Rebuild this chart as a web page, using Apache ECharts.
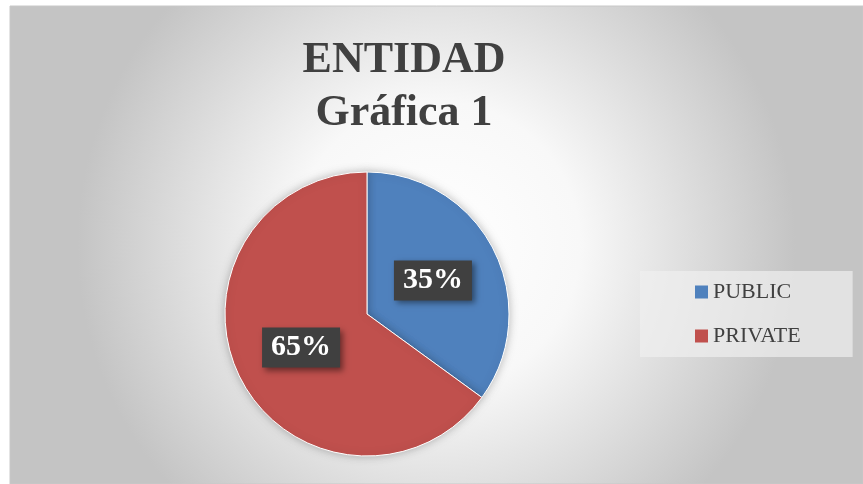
<!DOCTYPE html>
<html>
<head>
<meta charset="utf-8">
<script src="https://cdn.jsdelivr.net/npm/echarts@6/dist/echarts.min.js"></script>
<style>
  html, body { margin: 0; padding: 0; background: #fff; }
  #mychart { width: 863px; height: 484px; }
</style>
</head>
<body>
<div id="mychart"></div>
<script>
var categories = ['PUBLIC', 'PRIVATE'];
var values = [35, 65];
var colors = ['#4f81bd', '#c0504d'];
var titleText = 'ENTIDAD\nGráfica 1';

var chart = echarts.init(document.getElementById('mychart'));

var pieData = [];
for (var i = 0; i < categories.length; i++) {
  pieData.push({ name: categories[i], value: values[i], itemStyle: { color: colors[i] } });
}

var option = {
  animation: false,
  graphic: [
    {
      type: 'rect',
      z: -10,
      shape: { x: 10, y: 6, width: 853, height: 478 },
      style: {
        fill: {
          type: 'radial', x: 0.5, y: 0.5, r: 0.75,
          colorStops: [
            { offset: 0, color: '#ffffff' },
            { offset: 0.4, color: '#f8f8f8' },
            { offset: 1, color: '#c4c4c4' }
          ]
        },
        stroke: '#c8c8c8',
        lineWidth: 1
      }
    }
  ],
  title: {
    text: titleText,
    left: 399,
    textAlign: 'center',
    top: 29,
    textStyle: {
      fontFamily: 'Liberation Serif',
      fontWeight: 'bold',
      fontSize: 44,
      lineHeight: 53,
      color: '#404040'
    }
  },
  legend: {
    orient: 'vertical',
    left: 640,
    top: 271,
    itemWidth: 13,
    itemHeight: 13,
    itemGap: 22,
    padding: [10, 52, 10, 55],
    backgroundColor: 'rgba(240,240,240,0.7)',
    icon: 'rect',
    itemStyle: { borderWidth: 0 },
    textStyle: {
      fontFamily: 'Liberation Serif',
      fontSize: 22,
      color: '#404040'
    },
    data: categories
  },
  series: [
    {
      type: 'pie',
      center: [367, 314],
      radius: 142,
      startAngle: 90,
      clockwise: true,
      itemStyle: {
        borderColor: '#ffffff',
        borderWidth: 1,
        shadowBlur: 8,
        shadowColor: 'rgba(0,0,0,0.25)'
      },
      label: {
        show: true,
        position: 'inside',
        formatter: '{d}%',
        fontFamily: 'Liberation Serif',
        fontWeight: 'bold',
        fontSize: 30,
        color: '#ffffff',
        backgroundColor: '#404040',
        padding: [6, 9, 4, 9],
        shadowBlur: 6,
        shadowOffsetX: 3,
        shadowOffsetY: 3,
        shadowColor: 'rgba(0,0,0,0.45)'
      },
      labelLine: { show: false },
      emphasis: { disabled: true },
      data: pieData
    }
  ]
};

chart.setOption(option);
</script>
</body>
</html>
